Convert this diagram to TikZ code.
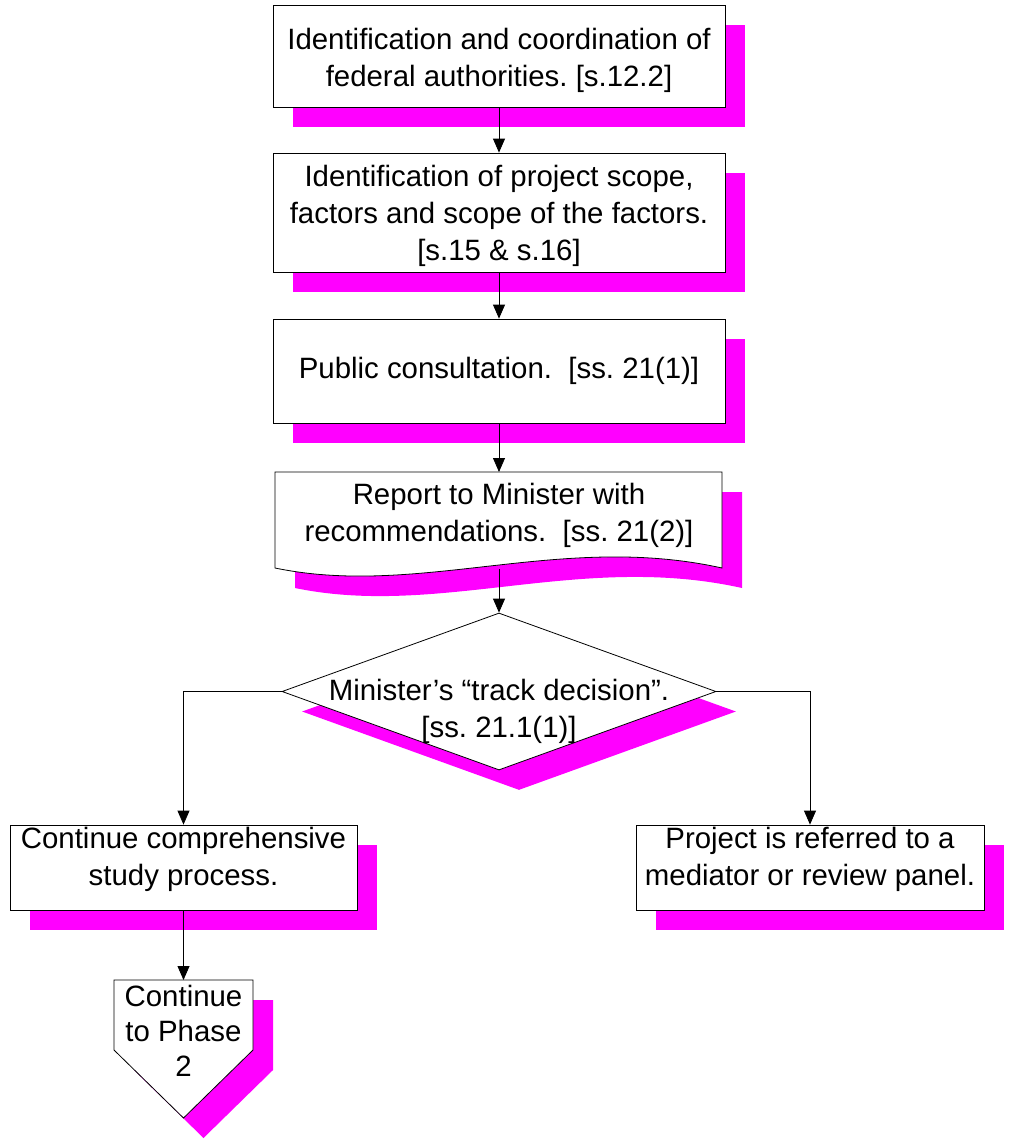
\documentclass[tikz,border=0pt]{standalone}
\usepackage{fontspec}
\setmainfont{Liberation Sans}
\usetikzlibrary{arrows.meta, shapes.geometric, shadows}
\definecolor{shadowpink}{RGB}{255,0,255}
\frenchspacing

\begin{document}
\begin{tikzpicture}[x=1pt, y=-1pt,
        font=\fontsize{29.4}{37}\selectfont,
        pinkshadow/.style={drop shadow={shadow xshift=20pt, shadow yshift=-20pt, fill=shadowpink, opacity=1}},
        stepbox/.style={draw, fill=white, line width=0.8pt, pinkshadow, align=center, inner sep=0pt},
        decision/.style={diamond, draw, fill=white, line width=0.8pt, pinkshadow, inner sep=0pt},
        outline/.style={draw, fill=white, line width=0.8pt, pinkshadow},
        flow/.style={line width=0.8pt, -{Triangle[length=14pt, width=12pt]}}]
        \useasboundingbox (0, 0) rectangle (1013, 1141);

        \node[stepbox, minimum width=452pt, minimum height=102pt] (auth) at (499, 56) {};
        \node[align=center] (authTxt) at (499, 60) {Identification and coordination of\\federal authorities. [s.12.2]};
        \node[stepbox, minimum width=452pt, minimum height=119pt] (scope) at (499, 212.5) {};
        \node[align=center] (scopeTxt) at (499, 216) {Identification of project scope,\\factors and scope of the factors.\\{}[s.15 \& s.16]};
        \node[stepbox, minimum width=452pt, minimum height=104pt] (pub) at (499, 371) {Public consultation.\ \ [ss. 21(1)]};

        \draw[outline] (275, 472) -- (499, 472) coordinate (repTop) -- (722, 472) -- (722, 568)
            .. controls (560, 532) and (420, 598) .. (275, 568) -- cycle;
        \coordinate (repBot) at (499, 569);
        \node[align=center] (rep) at (499, 515) {Report to Minister with\\recommendations.\ \ [ss. 21(2)]};

        \node[decision, minimum width=434pt, minimum height=157pt] (dec) at (499, 691.5) {};
        \node[align=center] (decTxt) at (499, 711) {Minister’s “track decision”.\\{}[ss. 21.1(1)]};

        \node[stepbox, minimum width=347pt, minimum height=85pt] (cont) at (183.5, 867.5) {};
        \node[align=center] (contTxt) at (183.5, 859) {Continue comprehensive\\study process.};
        \node[stepbox, minimum width=348pt, minimum height=85pt] (ref) at (810, 867.5) {};
        \node[align=center] (refTxt) at (810, 859) {Project is referred to a\\mediator or review panel.};

        \draw[outline] (114, 980) -- (183.5, 980) coordinate (phTop) -- (253, 980) -- (253, 1050) -- (183.5, 1118) -- (114, 1050) -- cycle;
        \node[align=center, font=\fontsize{29.4}{35}\selectfont] (phase) at (183.5, 1031) {Continue\\to Phase\\2};

        \draw[flow] (auth) -- (scope);
        \draw[flow] (scope) -- (pub);
        \draw[flow] (pub) -- (repTop);
        \draw[flow] (repBot) -- (dec.north);
        \draw[flow] (dec.west) -| (cont.north);
        \draw[flow] (dec.east) -| (ref.north);
        \draw[flow] (cont) -- (phTop);
    \end{tikzpicture}
\end{document}
